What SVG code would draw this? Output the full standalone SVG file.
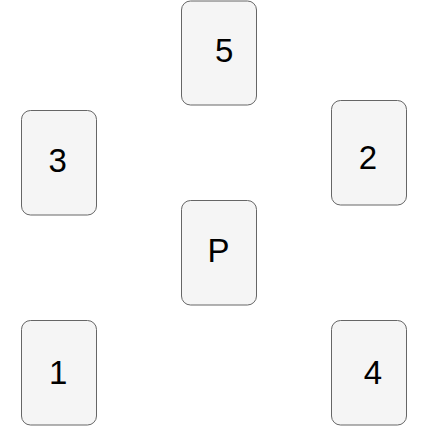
<svg xmlns="http://www.w3.org/2000/svg" width="433" height="426" viewBox="0 0 433 426">
<style>
.card{fill:#f5f5f5;stroke:#666666;stroke-width:1}
.lbl{font-family:"Liberation Sans",Arial,sans-serif;font-size:33px;fill:#000;text-anchor:middle}
</style>
<rect width="433" height="426" fill="#ffffff"/>
<g id="connectors"></g>
<g id="card5"><rect class="card" x="181.5" y="1" width="75" height="104" rx="9"/><text class="lbl" x="224.3" y="62">5</text></g>
<g id="card3"><rect class="card" x="21.5" y="110.5" width="75" height="104.5" rx="9"/><text class="lbl" x="57.7" y="172">3</text></g>
<g id="card2"><rect class="card" x="331.5" y="100.5" width="75" height="104.5" rx="9"/><text class="lbl" x="368" y="168.5">2</text></g>
<g id="cardP"><rect class="card" x="181.5" y="200.5" width="75" height="104.5" rx="9"/><text class="lbl" x="218.5" y="262">P</text></g>
<g id="card1"><rect class="card" x="21.5" y="320.5" width="75" height="104.5" rx="9"/><text class="lbl" x="58.2" y="384">1</text></g>
<g id="card4"><rect class="card" x="331.5" y="320.5" width="75" height="104.5" rx="9"/><text class="lbl" x="373" y="384">4</text></g>
</svg>
